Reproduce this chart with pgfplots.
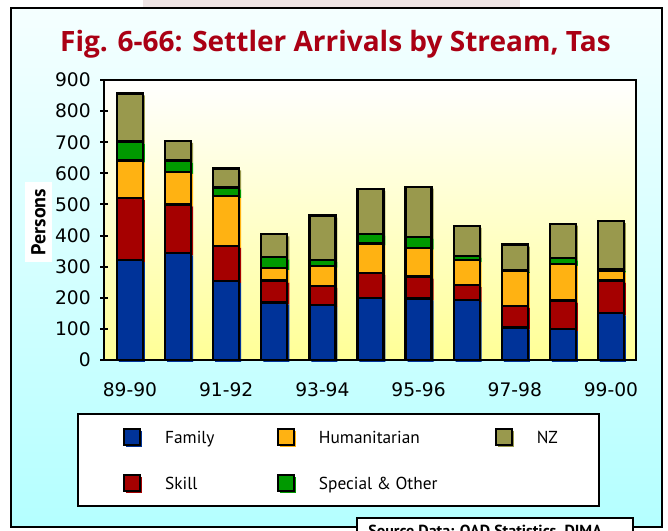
\documentclass[border=0pt]{standalone}
\usepackage{pgfplots}
\pgfplotsset{compat=1.18}
\usepackage{pgfplotstable}
\usepackage{fontspec}
\setmainfont{PT Sans}
\newfontfamily\tickfont{DejaVu Sans}
\newfontfamily\titlefont{Open Sans}

\definecolor{famc}{RGB}{0,51,153}
\definecolor{skillc}{RGB}{165,0,0}
\definecolor{humc}{RGB}{255,178,18}
\definecolor{specc}{RGB}{0,153,0}
\definecolor{nzc}{RGB}{153,153,77}
\definecolor{titlec}{RGB}{170,0,20}
\definecolor{frametop}{RGB}{245,255,255}
\definecolor{framebot}{RGB}{180,255,255}
\definecolor{plotbot}{RGB}{255,255,150}
\definecolor{pinkc}{RGB}{238,228,228}

% settler arrivals, Tasmania, by stream (persons)
\pgfplotstableread{
yr family skill hum special nz
0  321 199 121 61 155
1  343 157 105 36  63
2  254 113 160 28  61
3  185  70  40 35  74
4  177  61  65 18 143
5  200  79  96 30 145
6  198  70  93 35 161
7  193  48  80 14  96
8  104  70 112  3  82
9   99  92 118 18 111
10 150 105  32  5 154
}\arrivals

% legend marker: coloured shadow under a black-edged square
\newcommand\legimg[1]{%
  \path[draw=none, fill=none] (-40.875pt,-17.25pt) rectangle (24.5pt,17.25pt);
  \path[draw=none, fill=#1] (-4.5pt,-7.5pt) rectangle (7.5pt,4.5pt);
  \path[draw=black, line width=1.5pt, fill=#1] (-6pt,-6pt) rectangle (6pt,6pt);}

\pgfplotsset{
  barbase/.style={at={(78pt,128.25pt)}, anchor=south west, scale only axis,
    width=399pt, height=210pt, xmin=-0.54, xmax=10.52, ymin=0, ymax=900,
    ybar stacked, bar width=19.5pt},
}

\begin{document}
\begin{tikzpicture}
\clip (0,0) rectangle (501pt,398.25pt);
\fill[white] (0,0) rectangle (501pt,398.25pt);
\fill[pinkc] (107.25pt,392.25pt) rectangle (390pt,398.25pt);
\shade[top color=frametop, bottom color=framebot] (8.25pt,3pt) rectangle (496.5pt,392.25pt);
\draw[line width=1.5pt] (8.25pt,3pt) rectangle (496.5pt,392.25pt);
\node[anchor=base, inner sep=0pt, text=titlec, font=\titlefont\bfseries\fontsize{21}{21}\selectfont]
  at (251.6pt,359.25pt) {Fig. 6-66: Settler Arrivals by Stream, Tas};
\shade[top color=white, bottom color=plotbot] (78pt,128.25pt) rectangle (477pt,338.25pt);

% coloured shadows of the bars
\begin{axis}[barbase, at={(79.5pt,126.75pt)}, hide axis]
\addplot[fill=famc, draw=none] table[x=yr, y=family]{\arrivals};
\addplot[fill=skillc, draw=none] table[x=yr, y=skill]{\arrivals};
\addplot[fill=humc, draw=none] table[x=yr, y=hum]{\arrivals};
\addplot[fill=specc, draw=none] table[x=yr, y=special]{\arrivals};
\addplot[fill=nzc, draw=none] table[x=yr, y=nz]{\arrivals};
\end{axis}

\begin{axis}[barbase,
  axis line style={line width=1.5pt},
  tick style={black, line width=1.5pt},
  tick align=center, major tick length=6pt,
  ytick pos=left, xtick style={draw=none},
  ytick={0,100,...,900},
  xtick={0,2,...,10}, xticklabels={89-90,91-92,93-94,95-96,97-98,99-00},
  ticklabel style={font=\tickfont\fontsize{14}{14}\selectfont},
  /pgf/number format/assume math mode=true,
  yticklabel style={inner sep=0pt, xshift=-6.75pt},
  xticklabel style={inner sep=0pt, yshift=-13.5pt},
  legend style={at={(-0.0508,-0.1893)}, anchor=north west, draw=black,
    line width=1.5pt, fill=white, inner sep=0pt, column sep=0pt, row sep=0pt,
    font=\fontsize{13}{13}\selectfont, nodes={inner sep=0pt, text depth=0pt},
    cells={anchor=west}},
  transpose legend, legend columns=2]
\addplot[fill=famc, draw=black, line width=1.75pt, legend image code/.code={\legimg{famc}}]
  table[x=yr, y=family]{\arrivals};
\addlegendentry{\makebox[50pt][l]{Family}}
\addplot[fill=skillc, draw=black, line width=1.75pt, legend image code/.code={\legimg{skillc}}]
  table[x=yr, y=skill]{\arrivals};
\addlegendentry{\makebox[50pt][l]{Skill}}
\addplot[fill=humc, draw=black, line width=1.75pt, legend image code/.code={\legimg{humc}}]
  table[x=yr, y=hum]{\arrivals};
\addlegendentry{\makebox[98pt][l]{Humanitarian}}
\addplot[fill=specc, draw=black, line width=1.75pt, legend image code/.code={\legimg{specc}}]
  table[x=yr, y=special]{\arrivals};
\addlegendentry{\makebox[98pt][l]{Special \& Other}}
\addplot[fill=nzc, draw=black, line width=1.75pt, legend image code/.code={\legimg{nzc}}]
  table[x=yr, y=nz]{\arrivals};
\addlegendentry{\makebox[46.5pt][l]{NZ}}
\end{axis}

\node[rotate=90, fill=white, minimum width=60pt, minimum height=20pt, inner sep=0pt,
  font=\bfseries\fontsize{15}{15}\selectfont] at (28.9pt,231.75pt) {Persons};
\draw[fill=white, line width=1.5pt] (267.75pt,-10pt) rectangle (474.75pt,9.75pt);
\node[anchor=base west, inner sep=0pt, font=\bfseries\fontsize{12}{12}\selectfont]
  at (276pt,-4pt) {Source Data: OAD Statistics, DIMA};
\end{tikzpicture}
\end{document}
